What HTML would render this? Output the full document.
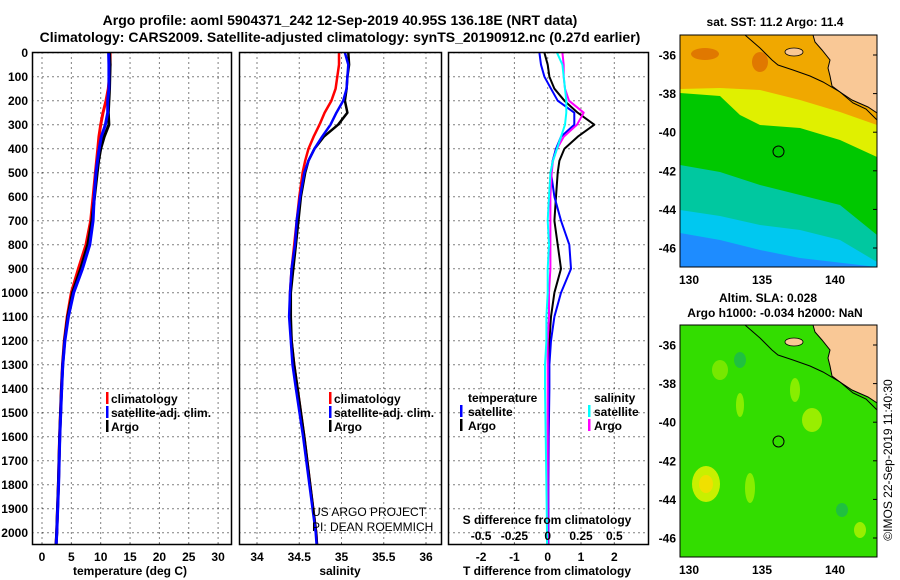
<!DOCTYPE html>
<html><head><meta charset="utf-8"><style>
body{margin:0;background:#fff;}
svg{display:block;font-family:"Liberation Sans",sans-serif;font-weight:bold;}
</style></head><body>
<svg id="c" width="900" height="580" viewBox="0 0 900 580">
<rect width="900" height="580" fill="#fff"/>
<text x="340" y="25" font-size="14" text-anchor="middle">Argo profile: aoml 5904371_242 12-Sep-2019 40.95S 136.18E (NRT data)</text>
<text x="340" y="42" font-size="14" text-anchor="middle">Climatology: CARS2009. Satellite-adjusted climatology: synTS_20190912.nc (0.27d earlier)</text>
<g id="grid"></g>
<g id="lines"></g>
<g id="frames" fill="none" stroke="#000" stroke-width="1.5">
<rect x="32.5" y="52.5" width="199" height="492"/>
<rect x="239.5" y="52.5" width="202" height="492"/>
<rect x="448.5" y="52.5" width="200" height="492"/>
</g>
<g id="labels" font-size="12"></g>
<text x="130" y="575" font-size="12" text-anchor="middle">temperature (deg C)</text>
<text x="340" y="575" font-size="12" text-anchor="middle">salinity</text>
<text x="547" y="575" font-size="12" text-anchor="middle">T difference from climatology</text>
<text x="547" y="524" font-size="12" text-anchor="middle">S difference from climatology</text>
<text x="312" y="516" font-size="12" font-weight="normal">US ARGO PROJECT</text>
<text x="312" y="531" font-size="12" font-weight="normal">PI: DEAN ROEMMICH</text>
<g font-size="12">
<rect x="106" y="392" width="2.5" height="12" fill="#f00"/><text x="111" y="403">climatology</text>
<rect x="106" y="406" width="2.5" height="12" fill="#00f"/><text x="111" y="417">satellite-adj. clim.</text>
<rect x="106" y="420" width="2.5" height="12" fill="#000"/><text x="111" y="431">Argo</text>
</g>
<g font-size="12">
<rect x="329" y="392" width="2.5" height="12" fill="#f00"/><text x="334" y="403">climatology</text>
<rect x="329" y="406" width="2.5" height="12" fill="#00f"/><text x="334" y="417">satellite-adj. clim.</text>
<rect x="329" y="420" width="2.5" height="12" fill="#000"/><text x="334" y="431">Argo</text>
</g>
<g font-size="12">
<text x="468" y="402">temperature</text>
<rect x="460" y="405" width="2.5" height="12" fill="#00f"/><text x="468" y="416">satellite</text>
<rect x="460" y="419" width="2.5" height="12" fill="#000"/><text x="468" y="430">Argo</text>
<text x="594" y="402">salinity</text>
<rect x="588" y="405" width="2.5" height="12" fill="#0ff"/><text x="594" y="416">satellite</text>
<rect x="588" y="419" width="2.5" height="12" fill="#f0f"/><text x="594" y="430">Argo</text>
</g>

<defs>
<clipPath id="mc"><rect x="680" y="35" width="197" height="232"/></clipPath>
<clipPath id="mc2"><rect x="680" y="325" width="197" height="232"/></clipPath>
<g id="coast">
<polygon points="813,35 877,35 877,113 868,107 852,100 840,92 832,86 830,76 828,68 830,60 822,50 815,42" fill="#f9c896"/>
<ellipse cx="794" cy="52" rx="9" ry="4" fill="#f9c896" stroke="#000" stroke-width="0.8"/>
<polyline points="745,35 760,48 772,60 778,65 793,70 810,76 823,82 840,92 853,103 866,109 877,120" fill="none" stroke="#000" stroke-width="1"/>
<polyline points="813,35 815,42 822,50 830,60 828,68 830,76 832,86 840,92 852,100 868,107 877,113" fill="none" stroke="#000" stroke-width="1"/>
</g>
</defs>
<g clip-path="url(#mc)">
<rect x="680" y="35" width="197" height="232" fill="#f0a800"/>
<ellipse cx="705" cy="54" rx="14" ry="6" fill="#e07800"/>
<ellipse cx="760" cy="62" rx="8" ry="10" fill="#e07800"/>
<polygon points="680,89 720,88 760,90 800,100 840,112 877,125 877,267 680,267" fill="#e0f000"/>
<polygon points="680,93 720,96 740,115 760,125 800,128 840,140 877,157 877,267 680,267" fill="#00c800"/>
<polygon points="680,165 720,172 760,185 800,195 840,205 877,235 877,267 680,267" fill="#00c8a0"/>
<polygon points="680,210 720,216 760,225 800,230 840,240 877,262 877,267 680,267" fill="#00c8f0"/>
<polygon points="680,233 720,240 760,250 800,258 877,267 680,267" fill="#1e8cff"/>
<use href="#coast"/>
<circle cx="778.5" cy="151.5" r="5.5" fill="none" stroke="#000" stroke-width="1"/>
</g>
<rect x="680" y="35" width="197" height="232" fill="none" stroke="#000" stroke-width="1"/>
<g clip-path="url(#mc2)">
<rect x="680" y="325" width="197" height="232" fill="#33dd00"/>
<ellipse cx="706" cy="484" rx="14" ry="18" fill="#c8f000"/>
<ellipse cx="706" cy="484" rx="7" ry="9" fill="#f0e000"/>
<ellipse cx="740" cy="405" rx="4" ry="12" fill="#88ee00"/>
<ellipse cx="812" cy="420" rx="10" ry="12" fill="#99ee00"/>
<ellipse cx="795" cy="390" rx="5" ry="12" fill="#88ee00"/>
<ellipse cx="750" cy="488" rx="5" ry="15" fill="#88ee00"/>
<ellipse cx="720" cy="370" rx="8" ry="10" fill="#77e800"/>
<ellipse cx="860" cy="530" rx="6" ry="8" fill="#99ee00"/>
<ellipse cx="842" cy="510" rx="6" ry="7" fill="#20c040"/>
<ellipse cx="740" cy="360" rx="6" ry="8" fill="#20c040"/>
<use href="#coast" transform="translate(0,290)"/>
<circle cx="778.5" cy="441.5" r="5.5" fill="none" stroke="#000" stroke-width="1"/>
</g>
<rect x="680" y="325" width="197" height="232" fill="none" stroke="#000" stroke-width="1"/>
<text x="775" y="26" font-size="12" text-anchor="middle">sat. SST: 11.2 Argo: 11.4</text>
<text x="768" y="302" font-size="12" text-anchor="middle">Altim. SLA: 0.028</text>
<text x="775" y="317" font-size="12" text-anchor="middle">Argo h1000: -0.034 h2000: NaN</text>
<text transform="translate(892,460) rotate(-90)" font-size="12" font-weight="normal" text-anchor="middle">©IMOS 22-Sep-2019 11:40:30</text>
<g id="maplabels" font-size="12"></g>
</svg>
<script>
const depths=[0,50,100,150,200,250,300,350,400,450,500,600,700,800,900,1000,1100,1200,1300,1400,1600,1800,2000,2050];
const tClim=[11.6,11.6,11.5,11.3,10.9,10.4,10.0,9.7,9.5,9.3,9.1,8.7,8.3,7.5,6.2,5.0,4.3,3.8,3.5,3.3,3.0,2.8,2.5,2.4];
const dTsat=[-0.25,-0.2,-0.1,0.1,0.3,0.8,0.8,0.4,0.25,0.15,0.1,0.2,0.4,0.65,0.7,0.4,0.2,0.1,0.05,0.05,0.03,0.02,0.02,0.02];
const dTargo=[-0.1,0.0,0.05,0.2,0.5,0.9,1.4,0.9,0.5,0.35,0.3,0.25,0.2,0.3,0.4,0.2,0.1,0.05,0.03,0.02,0.01,0,0,0];
const sClim=[34.97,34.97,34.95,34.93,34.88,34.8,34.74,34.67,34.61,34.57,34.54,34.5,34.47,34.44,34.41,34.39,34.39,34.41,34.44,34.48,34.56,34.63,34.7,34.71];
const dSsat=[0.07,0.11,0.12,0.13,0.14,0.14,0.13,0.1,0.07,0.04,0.02,0.01,0.0,0.01,0.0,0.0,-0.01,-0.01,-0.02,-0.02,-0.015,-0.01,-0.005,-0.005];
const dSargo=[0.11,0.12,0.12,0.13,0.16,0.27,0.22,0.12,0.07,0.04,0.03,0.02,0.02,0.02,0.02,0.01,0.01,0.0,0,0,0,0,0,0];
const depthTicks=[0,100,200,300,400,500,600,700,800,900,1000,1100,1200,1300,1400,1500,1600,1700,1800,1900,2000];
const tTicks=[0,5,10,15,20,25,30];
const sTicks=[34,34.5,35,35.5,36];
const sTickLabels=["34","34.5","35","35.5","36"];
const dtTicks=[-2,-1,0,1,2];
const dsTicks=[-0.5,-0.25,0,0.25,0.5];
const dsTickLabels=["-0.5","-0.25","0","0.25","0.5"];
const latTicks=[-36,-38,-40,-42,-44,-46];
const lonTicks=[130,135,140];

const NS='http://www.w3.org/2000/svg';
const yD=d=>52.7+d*0.24;
const xT=t=>42+t*5.87;
const xS=s=>257+(s-34)*84.5;
const xDT=v=>547.7+v*33.3;
const xDS=v=>547.7+v*133.2;
const lonX=l=>689+(l-130)*14.6;
const latY=l=>55+(-36-l)*19.3;
function mk(tag,attrs,parent){const e=document.createElementNS(NS,tag);for(const k in attrs)e.setAttribute(k,attrs[k]);parent.appendChild(e);return e;}
const grid=document.getElementById('grid'),lines=document.getElementById('lines'),labels=document.getElementById('labels'),ml=document.getElementById('maplabels');
const panels=[[32.5,231.5],[239.5,441.5],[448.5,648.5]];
depthTicks.forEach(d=>{
  panels.forEach(p=>{const l=mk('line',{x1:p[0],x2:p[1],y1:yD(d),y2:yD(d),stroke:'#000','stroke-width':1,'stroke-dasharray':'1,4'},grid);
  
  });
  const t=mk('text',{x:28,y:yD(d)+4.5,'text-anchor':'end'},labels);t.textContent=d;
  
  
});
function vgrid(x){const l=mk('line',{x1:x,x2:x,y1:52.5,y2:544.5,stroke:'#000','stroke-width':1,'stroke-dasharray':'1,4'},grid);
  
  }
function xlabel(x,y,s,name){const t=mk('text',{x:x,y:y,'text-anchor':'middle'},labels);t.textContent=s;
  
  }
tTicks.forEach(v=>{vgrid(xT(v));xlabel(xT(v),561,v,'temperature-tick-label');});
sTicks.forEach((v,i)=>{vgrid(xS(v));xlabel(xS(v),561,sTickLabels[i],'salinity-tick-label');});
dtTicks.forEach(v=>{vgrid(xDT(v));xlabel(xDT(v),561,v,'t-difference-tick-label');});
dsTicks.forEach((v,i)=>{xlabel(xDS(v),540,dsTickLabels[i],'s-difference-tick-label');});
function line(xs,xf,color,w,name){const pts=depths.map((d,i)=>xf(xs[i]).toFixed(1)+','+yD(d).toFixed(1)).join(' ');
  const p=mk('polyline',{points:pts,fill:'none',stroke:color,'stroke-width':w,'stroke-linejoin':'round'},lines);
  
  }
const tSat=tClim.map((v,i)=>v+dTsat[i]),tArgo=tClim.map((v,i)=>v+dTargo[i]);
const sSat=sClim.map((v,i)=>v+dSsat[i]),sArgo=sClim.map((v,i)=>v+dSargo[i]);
line(tClim,xT,'#f00',3,'temperature-climatology-line');
line(tArgo,xT,'#000',3,'temperature-argo-line');
line(tSat,xT,'#00f',3,'temperature-satellite-line');
line(sClim,xS,'#f00',2.5,'salinity-climatology-line');
line(sArgo,xS,'#000',2.5,'salinity-argo-line');
line(sSat,xS,'#00f',2.5,'salinity-satellite-line');
line(dTargo,xDT,'#000',2,'t-difference-argo-line');
line(dTsat,xDT,'#00f',2,'t-difference-satellite-line');
line(dSargo,xDS,'#f0f',2,'s-difference-argo-line');
line(dSsat,xDS,'#0ff',2,'s-difference-satellite-line');
[0,290].forEach(off=>{
  latTicks.forEach(l=>{const t=mk('text',{x:676,y:latY(l)+off+4.5,'text-anchor':'end'},ml);t.textContent=l;
    
    
    const k=mk('line',{x1:873,x2:877,y1:latY(l)+off,y2:latY(l)+off,stroke:'#000'},ml);
    
    });
  lonTicks.forEach(l=>{const t=mk('text',{x:lonX(l),y:284+off,'text-anchor':'middle'},ml);t.textContent=l;
    
    });
});
</script>
</body></html>
